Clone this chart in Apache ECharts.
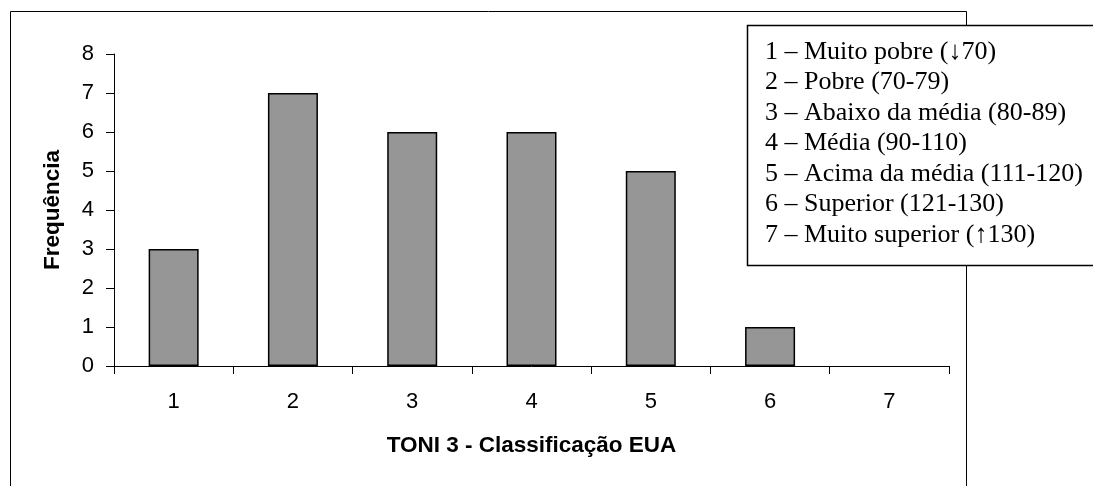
<!DOCTYPE html>
<html>
<head>
<meta charset="utf-8">
<script src="https://cdn.jsdelivr.net/npm/echarts@6/dist/echarts.min.js"></script>
<style>
  html, body { margin: 0; padding: 0; background: #fff; }
  #chart { width: 1093px; height: 486px; }
</style>
</head>
<body>
<div id="chart"></div>
<script>
// Classification categories (1..7) and the frequency for each one
const categories = ['1', '2', '3', '4', '5', '6', '7'];
const frequencies = [3, 7, 6, 6, 5, 1, 0];
const legendLines = [
  '1 \u2013 Muito pobre (\u219370)',
  '2 \u2013 Pobre (70-79)',
  '3 \u2013 Abaixo da média (80-89)',
  '4 \u2013 Média (90-110)',
  '5 \u2013 Acima da média (111-120)',
  '6 \u2013 Superior (121-130)',
  '7 \u2013 Muito superior (\u2191130)'
];
const xTitle = 'TONI 3 - Classificação EUA';
const yTitle = 'Frequência';

const chart = echarts.init(document.getElementById('chart'), null, { renderer: 'canvas' });

const sansFont = '"Liberation Sans", Arial, sans-serif';
const serifFont = '"Liberation Serif", "DejaVu Serif", serif';

// Explanatory text box listing what each category number means
const legendTexts = legendLines.map((t, i) => ({
  type: 'text',
  x: 765,
  y: 39 + i * 30.5,
  z: 11,
  style: {
    text: t,
    fontFamily: serifFont,
    fontSize: 26,
    fill: '#000',
    verticalAlign: 'top'
  }
}));

// A zero-height bar gets no outline so nothing is drawn for it
const barData = frequencies.map(v => v === 0
  ? { value: v, itemStyle: { borderWidth: 0 } }
  : v);

chart.setOption({
  animation: false,
  backgroundColor: '#fff',
  grid: { left: 114, right: 1093 - 949, top: 54, bottom: 486 - 366 },
  xAxis: {
    type: 'category',
    data: categories,
    name: xTitle,
    nameLocation: 'middle',
    nameGap: 68,
    nameTextStyle: { fontFamily: sansFont, fontSize: 22.5, fontWeight: 'bold', color: '#000' },
    axisLine: { lineStyle: { color: '#000', width: 1 } },
    axisTick: { show: true, length: 8, lineStyle: { color: '#000' } },
    axisLabel: { fontFamily: sansFont, fontSize: 22, color: '#000', margin: 25 }
  },
  yAxis: {
    type: 'value',
    min: 0, max: 8, interval: 1,
    name: yTitle,
    nameLocation: 'middle',
    nameGap: 50,
    nameRotate: 90,
    nameTextStyle: { fontFamily: sansFont, fontSize: 22.5, fontWeight: 'bold', color: '#000' },
    axisLine: { show: true, lineStyle: { color: '#000', width: 1 } },
    axisTick: { show: true, length: 8, lineStyle: { color: '#000' } },
    axisLabel: { fontFamily: sansFont, fontSize: 22, color: '#000', margin: 20 },
    splitLine: { show: false }
  },
  series: [{
    type: 'bar',
    data: barData,
    barWidth: 50,
    itemStyle: { color: '#969696', borderColor: '#000', borderWidth: 1.5 }
  }],
  graphic: [
    {
      type: 'rect',
      shape: { x: 10.5, y: 11.5, width: 956, height: 500 },
      style: { fill: 'none', stroke: '#000', lineWidth: 1 },
      silent: true,
      z: -1
    },
    {
      type: 'rect',
      shape: { x: 747.5, y: 25.5, width: 360, height: 240 },
      style: { fill: '#fff', stroke: '#000', lineWidth: 1.5 },
      z: 10
    }
  ].concat(legendTexts)
});
</script>
</body>
</html>
